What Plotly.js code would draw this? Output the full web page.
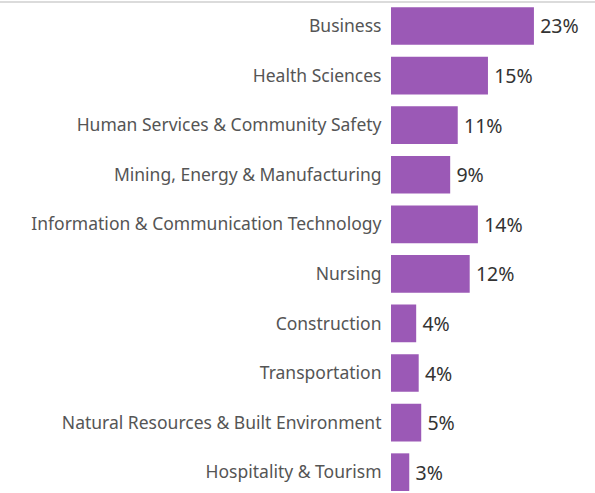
<!DOCTYPE html>
<html>
<head>
<meta charset="utf-8">
<script src="https://cdn.plot.ly/plotly-3.0.1.min.js"></script>
<style>html,body{margin:0;padding:0;background:#fff;}#chart{width:595px;height:493px;}</style>
</head>
<body>
<div id="chart"></div>
<script>
const categories = [
  "Business",
  "Health Sciences",
  "Human Services & Community Safety",
  "Mining, Energy & Manufacturing",
  "Information & Communication Technology",
  "Nursing",
  "Construction",
  "Transportation",
  "Natural Resources & Built Environment",
  "Hospitality & Tourism"
];
const shares = [22.7, 15.4, 10.6, 9.4, 13.8, 12.5, 4.0, 4.4, 4.8, 2.9];
const valueLabels = ["23%", "15%", "11%", "9%", "14%", "12%", "4%", "4%", "5%", "3%"];

const trace = {
  type: 'bar',
  orientation: 'h',
  y: categories,
  x: shares,
  text: valueLabels.map(function (s) { return '\u2009' + s; }),
  textposition: 'outside',
  constraintext: 'none',
  cliponaxis: false,
  textfont: {family: 'Noto Sans, sans-serif', size: 19.5, color: '#333'},
  marker: {color: '#9b59b6'},
  hoverinfo: 'none'
};

const layout = {
  width: 595, height: 493,
  margin: {l: 391, r: 0, t: 2, b: 0},
  paper_bgcolor: '#fff', plot_bgcolor: '#fff',
  bargap: 0.24,
  showlegend: false,
  xaxis: {range: [0, 32.4], visible: false, showgrid: false, zeroline: false, fixedrange: true},
  yaxis: {
    type: 'category',
    range: [9.42, -0.484],
    showgrid: false, zeroline: false, showline: false,
    ticks: 'outside', ticklen: 5, tickcolor: 'rgba(0,0,0,0)',
    tickfont: {family: 'Noto Sans, sans-serif', size: 17.5, color: '#555'}
  },
  shapes: [{
    type: 'line', xref: 'paper', yref: 'paper',
    x0: -391/204, x1: 1, y0: 1, y1: 1,
    line: {color: '#cfcfcf', width: 1.5}
  }]
};

Plotly.newPlot('chart', [trace], layout, {staticPlot: true, displayModeBar: false});
</script>
</body>
</html>
